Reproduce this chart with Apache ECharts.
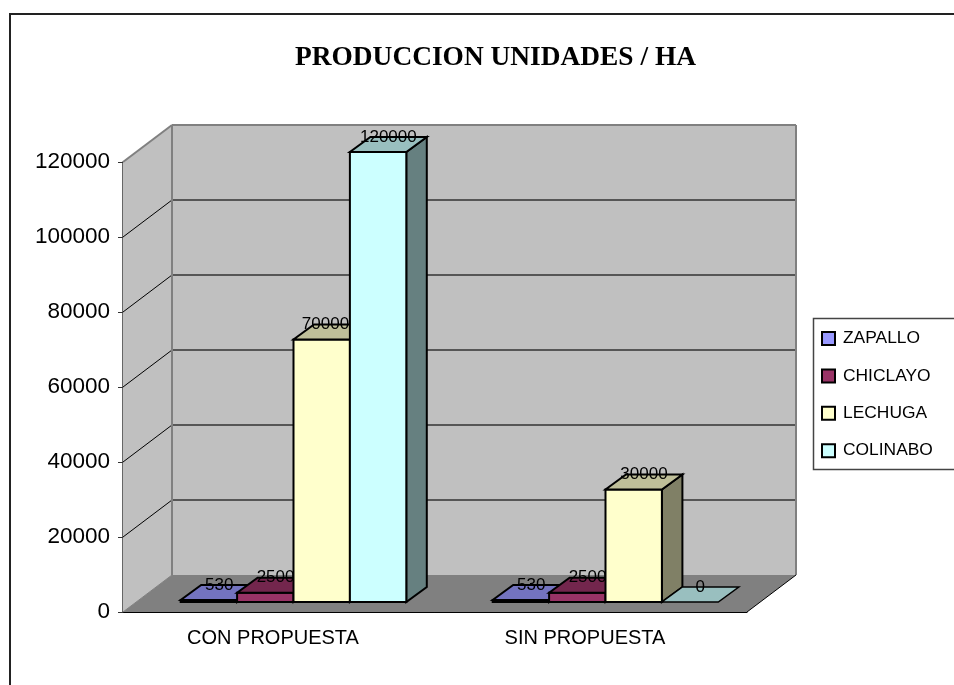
<!DOCTYPE html>
<html>
<head>
<meta charset="utf-8">
<title>PRODUCCION UNIDADES / HA</title>
<script src="https://cdn.jsdelivr.net/npm/echarts@6/dist/echarts.min.js"></script>
<style>
html, body { margin: 0; padding: 0; background: #fff; }
#chart { width: 954px; height: 685px; }
</style>
</head>
<body>
<div id="chart"></div>
<script>
var categories = ['CON PROPUESTA', 'SIN PROPUESTA'];
var zapallo = [530, 530];
var chiclayo = [2500, 2500];
var lechuga = [70000, 30000];
var colinabo = [120000, 0];
var seriesNames = ['ZAPALLO', 'CHICLAYO', 'LECHUGA', 'COLINABO'];
var gridValues = [0, 20000, 40000, 60000, 80000, 100000, 120000];

// front / top / side colours of each series
var faceColors = ['#9999FF', '#993366', '#FFFFCC', '#CCFFFF'];
var topColors = ['#7373BF', '#73264D', '#BFBF99', '#99BFBF'];
var sideColors = ['#4D4D80', '#4D1A33', '#808066', '#668080'];

var FONT = '"Liberation Sans", Arial, sans-serif';
// fake 3d offsets, in pixels
var WALL_DX = 49, WALL_DY = -37;
var BAR_DX = 20.5, BAR_DY = -15;
var BAR_LIFT = 10, BAR_SHIFT = 14.5, BAR_W = 56.4;

function poly(points, fill, stroke, width) {
    return {
        type: 'polygon',
        shape: { points: points },
        style: { fill: fill, stroke: stroke || null, lineWidth: width || 0, lineJoin: 'miter' }
    };
}

function line(x1, y1, x2, y2, color, width) {
    return {
        type: 'line',
        shape: { x1: x1, y1: y1, x2: x2, y2: y2 },
        style: { stroke: color, lineWidth: width }
    };
}

function renderWalls(params, api) {
    var rect = params.coordSys;
    var x0 = rect.x, x1 = rect.x + rect.width;
    var bottom = api.coord([0, 0])[1];
    var top = api.coord([0, 120000])[1];
    var kids = [
        poly([[x0, top], [x0 + WALL_DX, top + WALL_DY], [x0 + WALL_DX, bottom + WALL_DY], [x0, bottom]], '#C0C0C0'),
        poly([[x0 + WALL_DX, top + WALL_DY], [x1 + WALL_DX, top + WALL_DY], [x1 + WALL_DX, bottom + WALL_DY], [x0 + WALL_DX, bottom + WALL_DY]], '#C0C0C0'),
        poly([[x0, bottom], [x1, bottom], [x1 + WALL_DX, bottom + WALL_DY], [x0 + WALL_DX, bottom + WALL_DY]], '#808080')
    ];
    gridValues.forEach(function (v) {
        if (v === 0 || v === 120000) return;
        var y = api.coord([0, v])[1];
        kids.push(line(x0, y, x0 + WALL_DX, y + WALL_DY, '#000', 1));
        kids.push(line(x0 + WALL_DX, y + WALL_DY, x1 + WALL_DX, y + WALL_DY, '#333', 1.5));
    });
    kids.push(line(x0, top, x0 + WALL_DX, top + WALL_DY, '#808080', 2));
    kids.push(line(x0 + WALL_DX, top + WALL_DY, x1 + WALL_DX, top + WALL_DY, '#808080', 2));
    kids.push(line(x0 + WALL_DX, top + WALL_DY, x0 + WALL_DX, bottom + WALL_DY, '#808080', 2));
    kids.push(line(x1 + WALL_DX, top + WALL_DY, x1 + WALL_DX, bottom + WALL_DY, '#808080', 2));
    kids.push(line(x0, bottom, x0 + WALL_DX, bottom + WALL_DY, '#808080', 1));
    kids.push(line(x1, bottom, x1 + WALL_DX, bottom + WALL_DY, '#000', 1));
    return { type: 'group', children: kids };
}

function makeBarRenderer(idx) {
    return function (params, api) {
        var cat = api.value(0), val = api.value(1);
        var center = api.coord([cat, 0])[0];
        var left = center + BAR_SHIFT + (idx - 2) * BAR_W;
        var right = left + BAR_W;
        var base = api.coord([cat, 0])[1] - BAR_LIFT;
        var top = api.coord([cat, val])[1] - BAR_LIFT;
        // the 70000 label sits a bit further left in the original
        var nudge = (idx === 2 && cat === 0) ? -6.5 : 0;
        var kids = [];
        if (val > 0) {
            kids.push(poly([[right, top], [right + BAR_DX, top + BAR_DY], [right + BAR_DX, base + BAR_DY], [right, base]], sideColors[idx], '#000', 2));
            kids.push(poly([[left, top], [right, top], [right, base], [left, base]], faceColors[idx], '#000', 2));
        }
        kids.push(poly([[left, top], [right, top], [right + BAR_DX, top + BAR_DY], [left + BAR_DX, top + BAR_DY]], topColors[idx], '#000', val > 0 ? 2 : 1.5));
        kids.push({
            type: 'text',
            style: {
                x: (left + right) / 2 + BAR_DX / 2 + nudge,
                y: top + BAR_DY,
                text: String(val),
                fill: '#000',
                font: '17px ' + FONT,
                align: 'center',
                verticalAlign: 'middle'
            }
        });
        return { type: 'group', children: kids };
    };
}

var valueSets = [zapallo, chiclayo, lechuga, colinabo];
var series = [{
    name: 'walls',
    type: 'custom',
    silent: true,
    renderItem: renderWalls,
    data: [[0, 0]],
    encode: { x: 0, y: 1 },
    clip: false
}];
seriesNames.forEach(function (name, i) {
    series.push({
        name: name,
        type: 'custom',
        renderItem: makeBarRenderer(i),
        itemStyle: { color: faceColors[i], borderColor: '#000', borderWidth: 1.5 },
        data: valueSets[i].map(function (v, c) { return [c, v]; }),
        encode: { x: 0, y: 1 },
        clip: false
    });
});

var option = {
    animation: false,
    backgroundColor: '#fff',
    title: {
        text: 'PRODUCCION UNIDADES / HA',
        left: 490.5,
        top: 39,
        textAlign: 'center',
        textStyle: { fontFamily: '"Liberation Serif", "Times New Roman", serif', fontWeight: 'bold', fontSize: 27.4, color: '#000' }
    },
    tooltip: { show: false },
    grid: { left: 123, top: 162, width: 624, height: 450, containLabel: false },
    xAxis: {
        type: 'category',
        data: categories,
        axisLine: { lineStyle: { color: '#000', width: 1 } },
        axisTick: { length: 8, lineStyle: { color: '#333' } },
        axisLabel: { color: '#000', fontFamily: FONT, fontSize: 20, margin: 16, interval: 0, padding: [0, 12, 0, 0] }
    },
    yAxis: {
        type: 'value',
        min: 0,
        max: 120000,
        interval: 20000,
        splitLine: { show: false },
        axisLine: { show: true, lineStyle: { color: '#333', width: 1.5 } },
        axisTick: { show: true, length: 5, lineStyle: { color: '#333' } },
        axisLabel: {
            color: '#000', fontFamily: FONT, fontSize: 22.5, margin: 13,
            formatter: function (v) { return String(v); }
        }
    },
    legend: {
        orient: 'vertical',
        left: 816,
        top: 325,
        itemWidth: 13,
        itemHeight: 13,
        itemGap: 20.4,
        selectedMode: false,
        icon: 'rect',
        data: seriesNames,
        textStyle: { color: '#000', fontFamily: FONT, fontSize: 17.4, padding: [0, 0, 9, 3] }
    },
    graphic: [
        {
            type: 'polyline', z: -1, silent: true,
            shape: { points: [[10, 685], [10, 14], [954, 14]] },
            style: { fill: null, stroke: '#222', lineWidth: 2 }
        },
        {
            type: 'rect', z: -1, silent: true,
            shape: { x: 813.5, y: 318.5, width: 160, height: 151 },
            style: { fill: '#fff', stroke: '#444', lineWidth: 1.5 }
        }
    ],
    series: series
};

var chart = echarts.init(document.getElementById('chart'), null, { renderer: 'canvas' });
chart.setOption(option);
</script>
</body>
</html>
